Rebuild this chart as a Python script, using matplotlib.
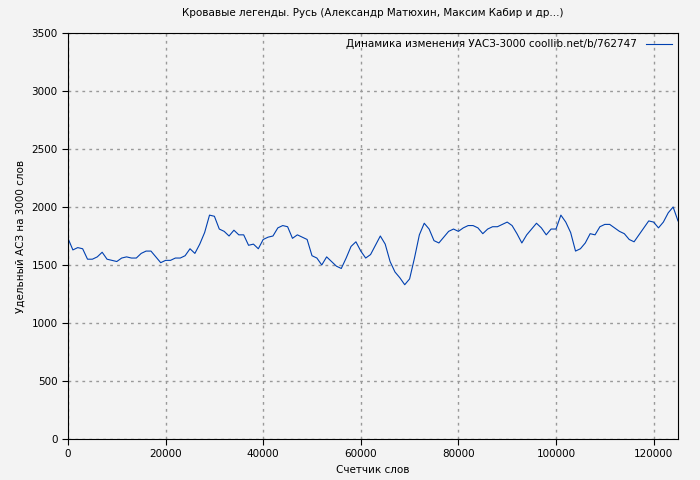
import matplotlib
matplotlib.use('Agg')
import matplotlib.pyplot as plt

words = list(range(0, 126000, 1000))
uasz = [1730,1630,1650,1640,1550,1550,1570,1610,1550,1540,1530,1560,1570,1560,1560,1600,1620,1620,1570,1520,
        1540,1540,1560,1560,1580,1640,1600,1680,1780,1930,1920,1810,1790,1750,1800,1760,1760,1670,1680,1640,
        1720,1740,1750,1820,1840,1830,1730,1760,1740,1720,1580,1560,1500,1570,1530,1490,1470,1560,1660,1700,
        1620,1560,1590,1670,1750,1680,1530,1440,1390,1330,1380,1560,1760,1860,1810,1710,1690,1740,1790,1810,
        1790,1820,1840,1840,1820,1770,1810,1830,1830,1850,1870,1840,1770,1690,1760,1810,1860,1820,1760,1810,
        1810,1930,1870,1780,1620,1640,1690,1770,1760,1830,1850,1850,1820,1790,1770,1720,1700,1760,1820,1880,
        1870,1820,1870,1950,2000,1880]

fig = plt.figure(figsize=(7, 4.8), dpi=100, facecolor='#f3f3f3')
ax = fig.add_axes([68/700, 41/480, 610/700, 406/480])
ax.set_facecolor('#f3f3f3')
ax.plot(words, uasz, color='#0040b0', lw=0.8, label='Динамика изменения УАСЗ-3000 coollib.net/b/762747')
ax.set_xlim(0, 125000)
ax.set_ylim(0, 3500)
ax.set_xticks(range(0, 125000, 20000))
ax.set_yticks(range(0, 3501, 500))
ax.grid(True, color='#999999', ls=(0, (2, 3)), lw=1)
ax.tick_params(labelsize=7.5, direction='out', length=4)
ax.set_xlabel('Счетчик слов', fontsize=7.5)
ax.set_ylabel('Удельный АСЗ на 3000 слов', fontsize=7.5)
ax.set_title('Кровавые легенды. Русь (Александр Матюхин, Максим Кабир и др...)', fontsize=7.5, pad=12)
leg = ax.legend(loc='upper right', fontsize=7.5, frameon=False, markerfirst=False, handlelength=2.5, borderaxespad=0.2)
fig.savefig('out.png', dpi=100, facecolor=fig.get_facecolor())
